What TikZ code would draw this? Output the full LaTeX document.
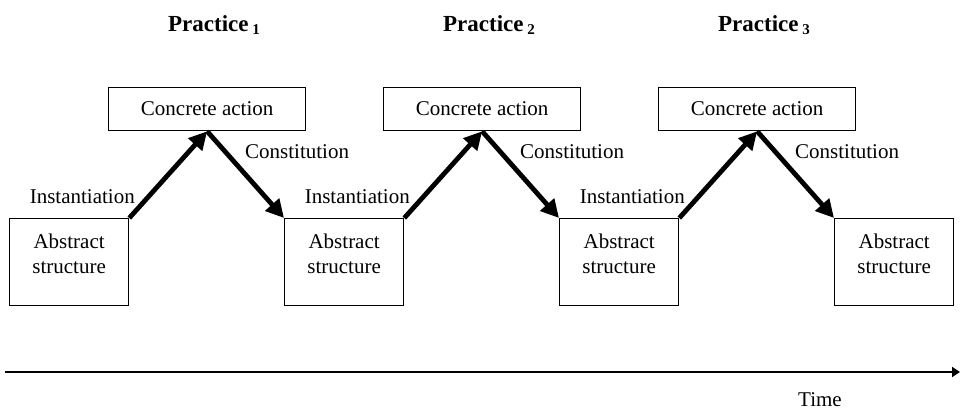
\documentclass[tikz,border=0pt]{standalone}
\usepackage{fontspec}
\setmainfont{Liberation Serif}
\usetikzlibrary{arrows.meta}
\begin{document}
\begin{tikzpicture}[x=1pt,y=-1pt,
  font=\fontsize{21}{25}\selectfont,
  absbox/.style={draw, line width=1.3pt, minimum width=119pt, minimum height=87pt, inner sep=0pt, anchor=north west},
  actbox/.style={draw, line width=1.3pt, minimum width=197pt, minimum height=43pt, inner sep=0pt, anchor=north west},
  boxtext/.style={align=center, anchor=north, inner sep=0pt},
  flow/.style={line width=4.8pt, -{Triangle[length=18pt,width=18pt]}},
  phase/.style={font=\fontsize{23}{27}\selectfont\bfseries},
  edgelabel/.style={inner sep=0pt}
]
\useasboundingbox (0,0) rectangle (960,414);

% abstract structures along the sequence
\foreach \i in {0,1,2,3} {
  \node[absbox] (abs\i) at ({9+275*\i},218) {};
  \node[boxtext] (abst\i) at ([yshift=-16pt]abs\i.north) {Abstract\\structure};
}

% concrete actions with their practice headings and links
\foreach \i [evaluate=\i as \j using int(\i+1)] in {0,1,2} {
  \node[actbox] (act\i) at ({108+275*\i},87) {Concrete action};
  \node[phase] (prac\i) at ({214+275*\i},25) {Practice\,{\fontsize{15}{17}\selectfont\raisebox{-3pt}{\j}}};
  \draw[flow] (abs\i.north east) -- (act\i.south);
  \draw[flow] (act\i.south) -- (abs\j.north west);
  \node[edgelabel, anchor=east] (inst\i) at ({135+275*\i},197) {Instantiation};
  \node[edgelabel, anchor=west] (cons\i) at ({245+275*\i},152) {Constitution};
}

% time axis
\coordinate (t0) at (5,372);
\coordinate (t1) at (960,372);
\draw[line width=2pt, -{Triangle[length=8pt,width=10pt]}] (t0) -- (t1);
\node (time) at (820,400) {Time};
\end{tikzpicture}
\end{document}
